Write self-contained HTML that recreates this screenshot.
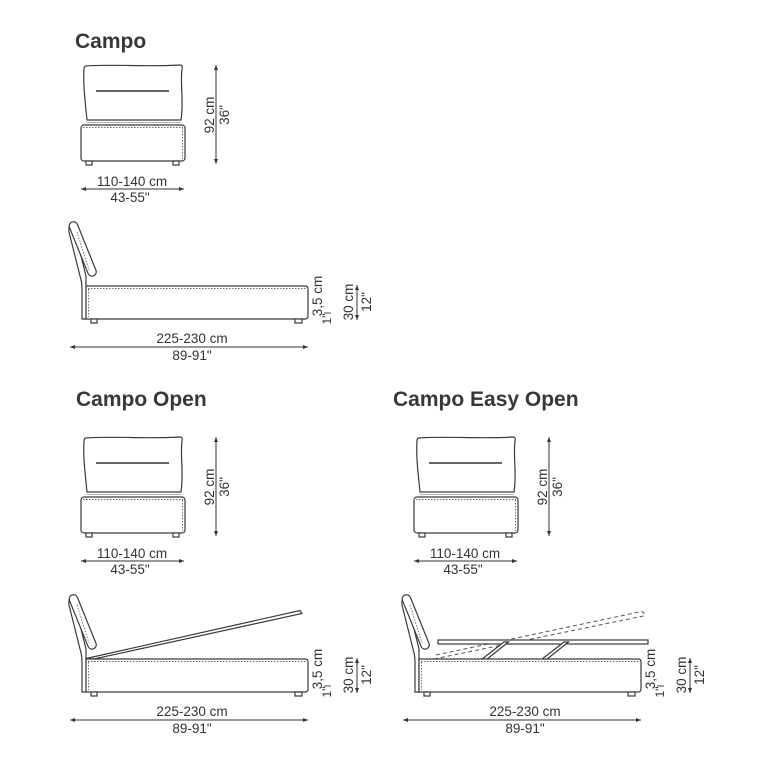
<!DOCTYPE html>
<html><head><meta charset="utf-8"><style>
html,body{margin:0;padding:0;background:#fff;}
svg{display:block;}
.t{font-family:"Liberation Sans",sans-serif;font-weight:bold;font-size:21px;fill:#383838;}
.d{font-family:"Liberation Sans",sans-serif;font-size:13.5px;fill:#333;}
.s{font-family:"Liberation Sans",sans-serif;font-size:12px;fill:#333;}
.l{fill:none;stroke:#3a3a3a;stroke-width:1.2;}
.w{fill:#fff;stroke:#3a3a3a;stroke-width:1.2;}
.dot{fill:none;stroke:#666;stroke-width:0.9;stroke-dasharray:1.5 1.5;}
.dash{fill:none;stroke:#555;stroke-width:1;stroke-dasharray:4 3;}
</style></head><body>
<svg width="758" height="758" viewBox="0 0 758 758" xmlns="http://www.w3.org/2000/svg">
<defs>
<marker id="a" viewBox="0 0 10 10" refX="10" refY="5" markerWidth="7" markerHeight="5" markerUnits="userSpaceOnUse" orient="auto-start-reverse"><path d="M0,1 L10,5 L0,9 z" fill="#333"/></marker>
<g id="front">
  <path class="w" d="M86,66 C110,64 150,67 180,65 Q183,65 182,69 C180,85 184,100 181,120 L87,120 C85,100 83,85 84,69 Q84,66 86,66 Z"/>
  <line x1="96" y1="91" x2="169" y2="91" stroke="#333" stroke-width="1.5"/>
  <line x1="87" y1="122.5" x2="181" y2="122.5" stroke="#999" stroke-width="0.8"/>
  <rect class="w" x="81" y="125" width="104" height="36" rx="3"/>
  <line class="dot" x1="83" y1="127.5" x2="183" y2="127.5"/>
  <line class="dot" x1="182.5" y1="128" x2="182.5" y2="159"/>
  <rect class="w" x="86" y="161" width="6" height="4"/>
  <rect class="w" x="173" y="161" width="6" height="4"/>
  <line x1="216" y1="65" x2="216" y2="164" stroke="#333" stroke-width="1" marker-start="url(#a)" marker-end="url(#a)"/>
  <line x1="81" y1="189" x2="184" y2="189" stroke="#333" stroke-width="1" marker-start="url(#a)" marker-end="url(#a)"/>
</g>
<g id="side">
  <path class="w" d="M82,319 L82,290 Q82,282 80,276 L69,232 Q68,225 73,224 L86,276 Q86,281 86,286 L86,319 Z"/>
  <rect class="w" x="78.5" y="220" width="8.5" height="58" rx="4.25" transform="rotate(-22 82.5 249)"/>
  <line class="dot" x1="77" y1="232" x2="89" y2="270"/>
  <path class="w" d="M86,286 L305,286 Q308,286 308,289 L308,316 Q308,319 305,319 L86,319 Z"/>
  <line class="dot" x1="88" y1="288.5" x2="306" y2="288.5"/>
  <line class="dot" x1="88.5" y1="289" x2="88.5" y2="317"/>
  <rect class="w" x="91" y="319" width="6" height="4"/>
  <rect class="w" x="295" y="319" width="7" height="4"/>
  <line x1="70" y1="347" x2="308" y2="347" stroke="#333" stroke-width="1" marker-start="url(#a)" marker-end="url(#a)"/>
  <line x1="357" y1="285" x2="357" y2="320" stroke="#333" stroke-width="1" marker-start="url(#a)" marker-end="url(#a)"/>
  <line x1="324" y1="313" x2="331" y2="313" stroke="#333" stroke-width="0.9"/>
</g>
</defs>

<!-- Campo -->
<text class="t" x="75" y="48">Campo</text>
<use href="#front"/>
<text class="d" x="132" y="186" text-anchor="middle">110-140 cm</text>
<text class="d" x="130" y="202" text-anchor="middle">43-55"</text>
<text class="d" transform="translate(214,115) rotate(-90)" text-anchor="middle">92 cm</text>
<text class="d" transform="translate(229,115) rotate(-90)" text-anchor="middle">36"</text>

<use href="#side"/>
<text class="d" x="192" y="343" text-anchor="middle">225-230 cm</text>
<text class="d" x="192" y="360" text-anchor="middle">89-91"</text>
<text class="d" transform="translate(322,296) rotate(-90)" text-anchor="middle">3,5 cm</text>
<text class="s" transform="translate(331,319) rotate(-90)" text-anchor="middle">1"</text>
<text class="d" transform="translate(353,302) rotate(-90)" text-anchor="middle">30 cm</text>
<text class="d" transform="translate(371,302) rotate(-90)" text-anchor="middle">12"</text>

<!-- Campo Open -->
<text class="t" x="76" y="406">Campo Open</text>
<use href="#front" transform="translate(0,372)"/>
<text class="d" x="132" y="558" text-anchor="middle">110-140 cm</text>
<text class="d" x="130" y="574" text-anchor="middle">43-55"</text>
<text class="d" transform="translate(214,487) rotate(-90)" text-anchor="middle">92 cm</text>
<text class="d" transform="translate(229,487) rotate(-90)" text-anchor="middle">36"</text>

<polygon class="w" points="86,658.5 300,610.5 302,613.5 94,659"/>
<use href="#side" transform="translate(0,373)"/>
<text class="d" x="192" y="716" text-anchor="middle">225-230 cm</text>
<text class="d" x="192" y="733" text-anchor="middle">89-91"</text>
<text class="d" transform="translate(322,669) rotate(-90)" text-anchor="middle">3,5 cm</text>
<text class="s" transform="translate(331,692) rotate(-90)" text-anchor="middle">1"</text>
<text class="d" transform="translate(353,675) rotate(-90)" text-anchor="middle">30 cm</text>
<text class="d" transform="translate(371,675) rotate(-90)" text-anchor="middle">12"</text>

<!-- Campo Easy Open -->
<text class="t" x="393" y="406">Campo Easy Open</text>
<use href="#front" transform="translate(333,372)"/>
<text class="d" x="465" y="558" text-anchor="middle">110-140 cm</text>
<text class="d" x="463" y="574" text-anchor="middle">43-55"</text>
<text class="d" transform="translate(547,487) rotate(-90)" text-anchor="middle">92 cm</text>
<text class="d" transform="translate(562,487) rotate(-90)" text-anchor="middle">36"</text>

<line class="dash" x1="436" y1="655" x2="641.5" y2="611.5"/>
<line class="dash" x1="434" y1="659" x2="643.5" y2="616"/>
<path class="dash" d="M641.5,611.5 Q645,612 643.5,616"/>
<rect class="w" x="438" y="640" width="210" height="4"/>
<polygon class="w" points="481.5,659.5 504,642 508.5,642 486.5,659.5"/>
<polygon class="w" points="541.5,659.5 564,642 568.5,642 546.5,659.5"/>
<use href="#side" transform="translate(333,373)"/>
<text class="d" x="525" y="716" text-anchor="middle">225-230 cm</text>
<text class="d" x="525" y="733" text-anchor="middle">89-91"</text>
<text class="d" transform="translate(655,669) rotate(-90)" text-anchor="middle">3,5 cm</text>
<text class="s" transform="translate(664,692) rotate(-90)" text-anchor="middle">1"</text>
<text class="d" transform="translate(686,675) rotate(-90)" text-anchor="middle">30 cm</text>
<text class="d" transform="translate(704,675) rotate(-90)" text-anchor="middle">12"</text>
</svg>
</body></html>
